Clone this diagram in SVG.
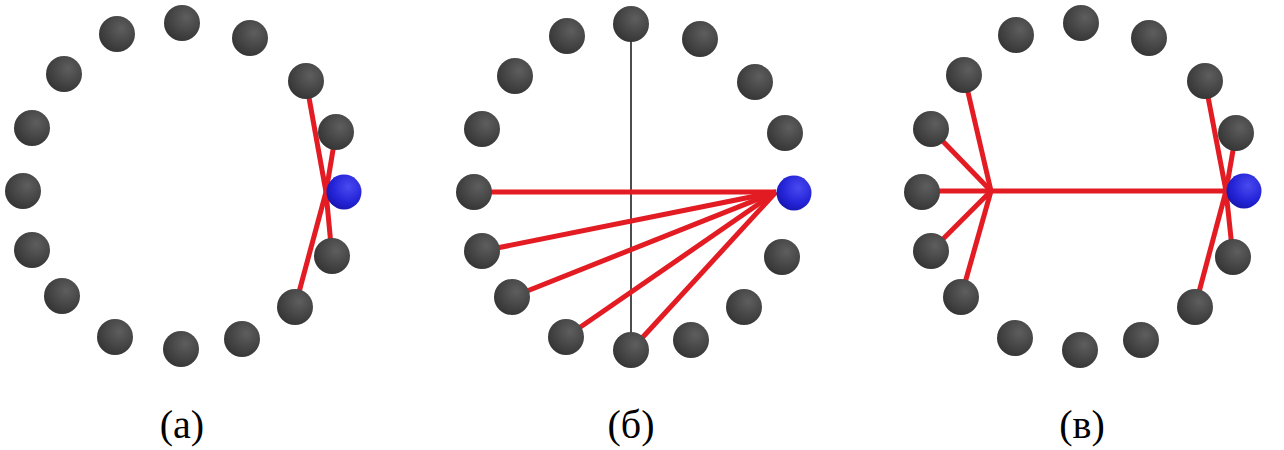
<svg xmlns="http://www.w3.org/2000/svg" width="1284" height="450" viewBox="0 0 1284 450">
<style>
.edge{stroke:#e31b23;stroke-width:5;stroke-linecap:butt;fill:none}
.axis{stroke:#000;stroke-width:1.4;fill:none}
.lbl{font-family:"Liberation Serif","DejaVu Serif",serif;font-size:40px;fill:#000;text-anchor:middle}
</style>
<defs>
<radialGradient id="gs" cx="0.62" cy="0.35" r="0.75">
<stop offset="0" stop-color="#5e5e5e"/>
<stop offset="0.6" stop-color="#434343"/>
<stop offset="1" stop-color="#313131"/>
</radialGradient>
<radialGradient id="gb" cx="0.62" cy="0.35" r="0.75">
<stop offset="0" stop-color="#4a4af0"/>
<stop offset="0.6" stop-color="#2424d8"/>
<stop offset="1" stop-color="#1414a8"/>
</radialGradient>
<circle id="s" r="18" fill="url(#gs)"/>
<circle id="b" r="17.5" fill="url(#gb)"/>
</defs>
<rect width="1284" height="450" fill="#fff"/>
<g id="connectors">
<line class="axis" x1="631" y1="24" x2="631" y2="350"/>
<line class="edge" x1="306" y1="81" x2="326" y2="192"/>
<line class="edge" x1="336" y1="132" x2="326" y2="192"/>
<line class="edge" x1="332" y1="256" x2="326" y2="192"/>
<line class="edge" x1="295" y1="307" x2="326" y2="192"/>
<line class="edge" x1="474" y1="192" x2="776" y2="192"/>
<line class="edge" x1="482" y1="251" x2="776" y2="192"/>
<line class="edge" x1="512" y1="297" x2="776" y2="192"/>
<line class="edge" x1="566" y1="337" x2="776" y2="192"/>
<line class="edge" x1="631" y1="350" x2="776" y2="192"/>
<line class="edge" x1="964" y1="75" x2="991" y2="191"/>
<line class="edge" x1="931" y1="129" x2="991" y2="191"/>
<line class="edge" x1="922" y1="191" x2="991" y2="191"/>
<line class="edge" x1="931" y1="251" x2="991" y2="191"/>
<line class="edge" x1="961" y1="297" x2="991" y2="191"/>
<line class="edge" x1="991" y1="191" x2="1226" y2="191"/>
<line class="edge" x1="1205" y1="81" x2="1226" y2="191"/>
<line class="edge" x1="1236" y1="133" x2="1226" y2="191"/>
<line class="edge" x1="1233" y1="257" x2="1226" y2="191"/>
<line class="edge" x1="1195" y1="307" x2="1226" y2="191"/>
</g>
<g id="panel-a">
<use href="#s" x="182" y="23"/><use href="#s" x="117" y="34"/><use href="#s" x="250" y="38"/>
<use href="#s" x="64" y="74"/><use href="#s" x="306" y="81"/><use href="#s" x="32" y="128"/>
<use href="#s" x="336" y="132"/><use href="#s" x="23" y="191"/><use href="#s" x="32" y="250"/>
<use href="#s" x="332" y="256"/><use href="#s" x="62" y="296"/><use href="#s" x="295" y="307"/>
<use href="#s" x="115" y="337"/><use href="#s" x="242" y="339"/><use href="#s" x="181" y="349"/>
<use href="#b" x="344" y="192"/>
<text class="lbl" x="182" y="438">(а)</text>
</g>
<g id="panel-b">
<use href="#s" x="631" y="24"/><use href="#s" x="567" y="36"/><use href="#s" x="700" y="39"/>
<use href="#s" x="515" y="76"/><use href="#s" x="755" y="82"/><use href="#s" x="482" y="129"/>
<use href="#s" x="785" y="133"/><use href="#s" x="474" y="192"/><use href="#s" x="482" y="251"/>
<use href="#s" x="782" y="257"/><use href="#s" x="512" y="297"/><use href="#s" x="744" y="307"/>
<use href="#s" x="566" y="337"/><use href="#s" x="691" y="340"/><use href="#s" x="631" y="350"/>
<use href="#b" x="794" y="193"/>
<text class="lbl" x="631" y="438">(б)</text>
</g>
<g id="panel-c">
<use href="#s" x="1081" y="23"/><use href="#s" x="1016" y="35"/><use href="#s" x="1149" y="38"/>
<use href="#s" x="964" y="75"/><use href="#s" x="1205" y="81"/><use href="#s" x="931" y="129"/>
<use href="#s" x="1236" y="133"/><use href="#s" x="922" y="192"/><use href="#s" x="931" y="251"/>
<use href="#s" x="1233" y="257"/><use href="#s" x="961" y="297"/><use href="#s" x="1195" y="307"/>
<use href="#s" x="1015" y="338"/><use href="#s" x="1141" y="340"/><use href="#s" x="1080" y="350"/>
<use href="#b" x="1244" y="191"/>
<text class="lbl" x="1082" y="438">(в)</text>
</g>
</svg>
